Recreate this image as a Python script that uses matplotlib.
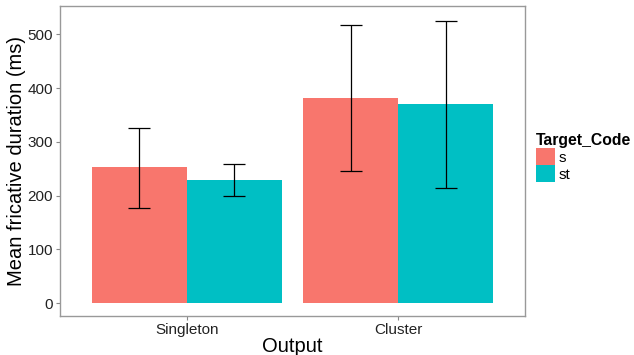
import numpy as np
import matplotlib
matplotlib.use("Agg")
import matplotlib.pyplot as plt

plt.rcParams['font.family'] = ['Liberation Sans', 'DejaVu Sans']

outputs = ["Singleton", "Cluster"]
codes = ["s", "st"]
colors = ["#F8766D", "#00BFC4"]
means = {"s": [252.5, 381], "st": [228.3, 370]}
lower = {"s": [177.5, 246.5], "st": [198.7, 214]}
upper = {"s": [326.5, 517.5], "st": [259.4, 525]}

fig = plt.figure(figsize=(6.34, 3.55), dpi=100)
ax = fig.add_axes([60 / 634, 1 - 316 / 355, 465 / 634, 310 / 355])

x = np.arange(1, len(outputs) + 1)
w = 0.45
for i, code in enumerate(codes):
    pos = x + (i - 0.5) * w
    m = np.array(means[code])
    lo = m - np.array(lower[code])
    hi = np.array(upper[code]) - m
    ax.bar(pos, m, width=w, color=colors[i], label=code, zorder=1)
    ax.errorbar(pos, m, yerr=[lo, hi], fmt="none", ecolor="black",
                elinewidth=0.9, capsize=7.8, capthick=0.9, zorder=2)

ax.set_xlim(0.4, 2.6)
ax.set_ylim(-24, 552.7)
ax.set_xticks(x)
ax.set_xticklabels(outputs)
ax.set_yticks([0, 100, 200, 300, 400, 500])
ax.tick_params(axis="both", length=3, color="#888888", labelsize=11,
               labelcolor="#222222", pad=2)
for s in ax.spines.values():
    s.set_color("#999999")
    s.set_linewidth(1)
ax.set_xlabel("Output", fontsize=14.5, labelpad=0)
ax.set_ylabel("Mean fricative duration (ms)", fontsize=14.5, labelpad=1)

leg = fig.legend(loc="upper left", bbox_to_anchor=(536 / 634, 1 - 133 / 355),
                 frameon=False, title="Target_Code", fontsize=11,
                 title_fontproperties={"weight": "bold", "size": 11.3},
                 handlelength=1.25, handleheight=1.35, labelspacing=0,
                 handletextpad=0.2, borderpad=0, borderaxespad=0,
                 alignment="left")

fig.savefig("out.png", dpi=100)
